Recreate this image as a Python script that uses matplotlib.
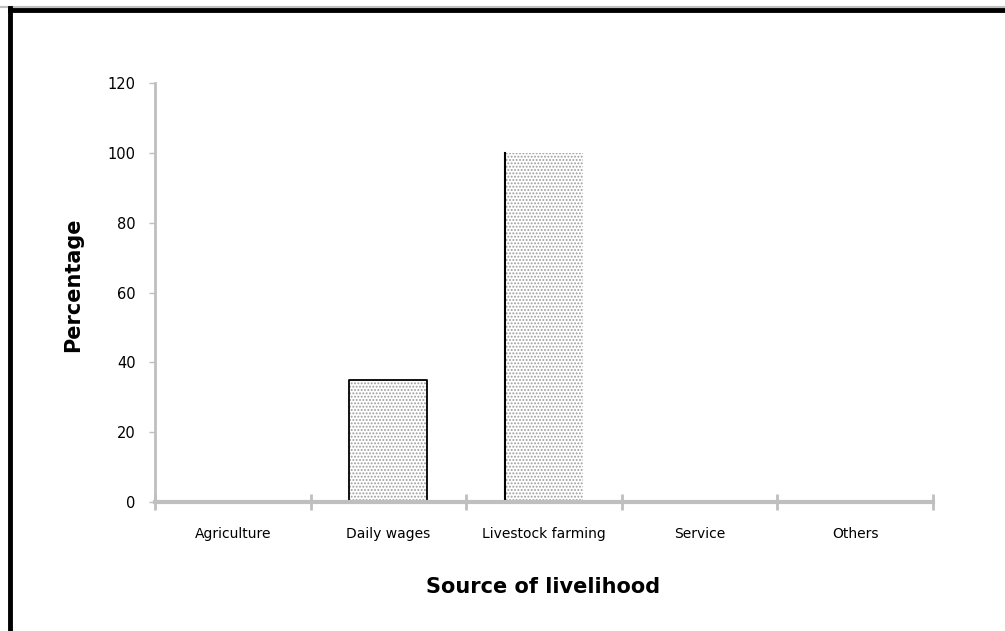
import numpy as np
import matplotlib.pyplot as plt
from matplotlib.lines import Line2D

categorias = ['Agriculture', 'Daily wages', 'Livestock farming', 'Service', 'Others']
porcentaje = [0, 35, 100, 0, 0]

plt.rcParams['font.family'] = 'DejaVu Sans'
plt.rcParams['hatch.linewidth'] = 0.9

fig = plt.figure(figsize=(10.05, 6.31), dpi=100)
ax = fig.add_axes([0.1542, 0.2044, 0.7742, 0.6641])

x = np.arange(len(categorias))
# el color del borde da el color del punteado; el contorno negro va aparte
barras = ax.bar(x, porcentaje, width=0.5, color='white', edgecolor='#9c9c9c',
                linewidth=0, hatch='.....', zorder=2)

for i, b in enumerate(barras):
    if b.get_height() == 0:
        continue
    x0, x1, h = b.get_x(), b.get_x() + b.get_width(), b.get_height()
    if categorias[i] == 'Livestock farming':
        ax.plot([x0, x0], [0, h], color='black', linewidth=1.5, zorder=3)
    else:
        ax.plot([x0, x0, x1, x1], [0, h, h, 0], color='black', linewidth=1.3, zorder=3)

ax.set_xlim(-0.5, len(categorias) - 0.5)
ax.set_ylim(0, 120)
ax.set_yticks(np.arange(0, 121, 20))

# ticks entre categorias, etiquetas en el centro
ax.set_xticks(np.arange(-0.5, len(categorias), 1.0))
ax.set_xticklabels([])
ax.set_xticks(x, minor=True)
ax.set_xticklabels(categorias, minor=True, fontsize=10)
ax.tick_params(axis='x', which='major', direction='inout', length=12, width=2, color='#bfbfbf')
ax.tick_params(axis='x', which='minor', length=0, pad=18)
ax.tick_params(axis='y', direction='out', length=4, width=1, color='#bfbfbf', labelsize=10.5, pad=10)

for lado in ['top', 'right']:
    ax.spines[lado].set_visible(False)
ax.spines['left'].set_color('#bfbfbf')
ax.spines['left'].set_linewidth(2)
ax.spines['bottom'].set_color('#bfbfbf')
ax.spines['bottom'].set_linewidth(3)
ax.spines['bottom'].set_zorder(4)

fig.text(0.073, 0.548, 'Percentage', rotation=90, fontsize=15, fontweight='bold',
         ha='center', va='center')
fig.text(0.540, 0.070, 'Source of livelihood', fontsize=15, fontweight='bold',
         ha='center', va='center')

# marco de la imagen
fig.add_artist(Line2D([0, 1], [1 - 7 / 631] * 2, color='#bfbfbf', linewidth=1.5))
fig.add_artist(Line2D([0.0095, 1], [1 - 10 / 631] * 2, color='black', linewidth=3.5))
fig.add_artist(Line2D([10 / 1005] * 2, [0, 1 - 8 / 631], color='black', linewidth=3.5))

fig.savefig('out.png', dpi=100)
